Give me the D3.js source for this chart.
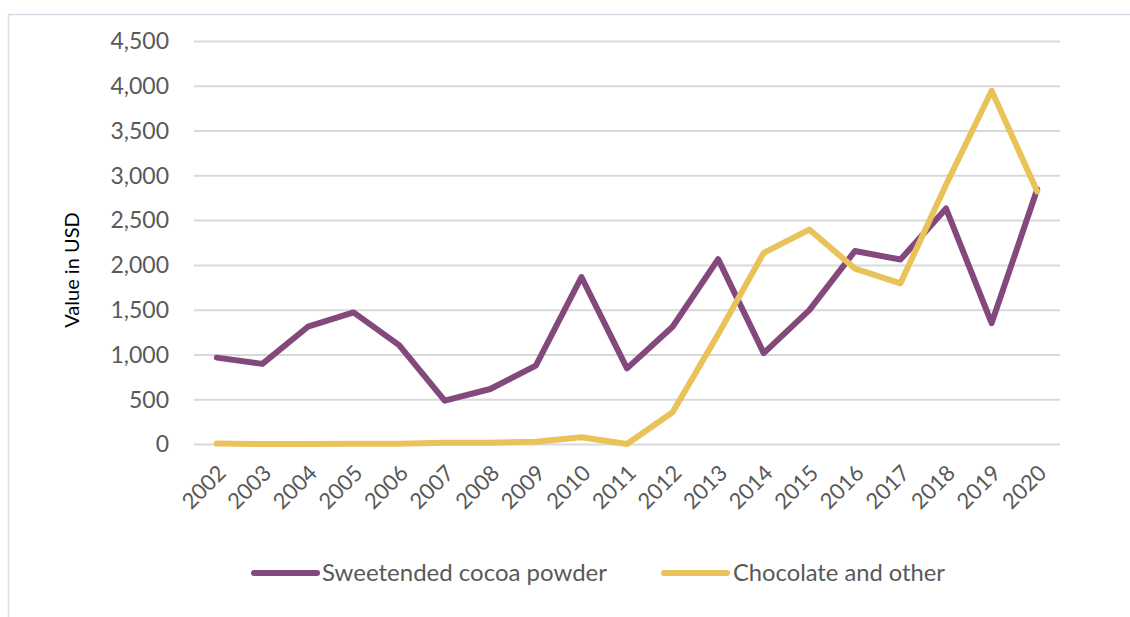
<!DOCTYPE html>
<html>
<head>
<meta charset="utf-8">
<script src="https://cdn.jsdelivr.net/npm/d3@7"></script>
<style>
  html, body { margin: 0; padding: 0; background: #fff; }
  svg { display: block; font-family: Lato, "Open Sans", sans-serif; }
</style>
</head>
<body>
<svg id="chart" width="1130" height="617"></svg>
<script>
// Export values by year (USD)
const years = ["2002","2003","2004","2005","2006","2007","2008","2009","2010","2011",
               "2012","2013","2014","2015","2016","2017","2018","2019","2020"];
const sweetenedCocoa = [970, 900, 1315, 1475, 1110, 490, 620, 880, 1870, 850,
                        1315, 2070, 1020, 1500, 2160, 2065, 2635, 1355, 2850];
const chocolateOther = [10, 5, 5, 8, 8, 20, 20, 30, 80, 5,
                        360, 1230, 2140, 2400, 1965, 1800, 2900, 3950, 2825];
const yTicks = [0, 500, 1000, 1500, 2000, 2500, 3000, 3500, 4000, 4500];
const seriesNames = ["Sweetended cocoa powder", "Chocolate and other"];
const seriesColors = ["#84497c", "#e9c25a"];

const svg = d3.select("#chart");

// outer frame
svg.append("rect")
  .attr("x", 8.5).attr("y", 14.5)
  .attr("width", 1140).attr("height", 610)
  .attr("fill", "none").attr("stroke", "#d9dbea").attr("stroke-width", 1.5);

const plot = { left: 194, right: 1060, top: 41.5, bottom: 444.5 };

const x = d3.scalePoint().domain(years).range([plot.left, plot.right]).padding(0.5);
const y = d3.scaleLinear().domain([0, 4500]).range([plot.bottom, plot.top]);

// horizontal gridlines
svg.append("g")
  .selectAll("line")
  .data(yTicks)
  .join("line")
  .attr("x1", plot.left).attr("x2", plot.right)
  .attr("y1", d => y(d)).attr("y2", d => y(d))
  .attr("stroke", "#d9d9d9").attr("stroke-width", 2);

// y axis labels
const yAxis = d3.axisLeft(y).tickValues(yTicks).tickFormat(d3.format(",")).tickSize(0).tickPadding(0);
const gy = svg.append("g").attr("transform", `translate(${169},0)`).call(yAxis);
gy.select(".domain").remove();
gy.selectAll("text")
  .attr("fill", "#595959")
  .style("font-size", "23px")
  .style("font-family", "Lato, sans-serif");

// x axis labels, rotated
const xAxis = d3.axisBottom(x).tickSize(0).tickPadding(0);
const gx = svg.append("g").attr("transform", `translate(0,${plot.bottom})`).call(xAxis);
gx.select(".domain").remove();
gx.selectAll("text")
  .attr("fill", "#595959")
  .style("font-size", "22px")
  .style("font-family", "Lato, sans-serif")
  .attr("text-anchor", "end")
  .attr("dy", null)
  .attr("y", 0)
  .attr("transform", "translate(10,30) rotate(-45)");

// y axis title
svg.append("text")
  .attr("transform", "translate(79,270) rotate(-90)")
  .attr("text-anchor", "middle")
  .attr("fill", "#000")
  .style("font-size", "20px")
  .text("Value in USD");

// series lines
const line = d3.line().x((d, i) => x(years[i])).y(d => y(d));
[sweetenedCocoa, chocolateOther].forEach((vals, k) => {
  svg.append("path")
    .datum(vals)
    .attr("d", line)
    .attr("fill", "none")
    .attr("stroke", seriesColors[k])
    .attr("stroke-width", 6)
    .attr("stroke-linejoin", "round")
    .attr("stroke-linecap", "round");
});

// legend
const legendItems = [
  { x1: 254, x2: 317, tx: 322, w: 285 },
  { x1: 664, x2: 727, tx: 733, w: 212 }
];
legendItems.forEach((it, k) => {
  svg.append("line")
    .attr("x1", it.x1).attr("x2", it.x2)
    .attr("y1", 573).attr("y2", 573)
    .attr("stroke", seriesColors[k]).attr("stroke-width", 6)
    .attr("stroke-linecap", "round");
  svg.append("text")
    .attr("x", it.tx).attr("y", 581)
    .attr("fill", "#595959")
    .style("font-size", "23px")
    .attr("textLength", it.w)
    .attr("lengthAdjust", "spacingAndGlyphs")
    .text(seriesNames[k]);
});
</script>
</body>
</html>
